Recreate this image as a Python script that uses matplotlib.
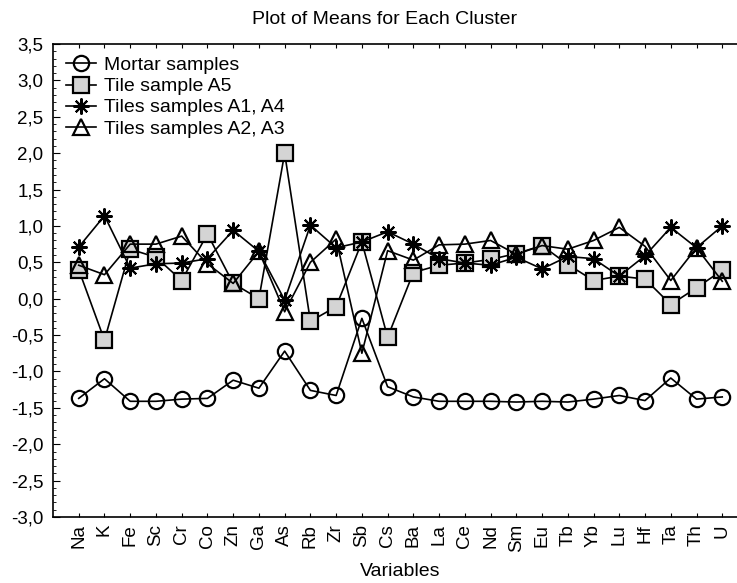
import numpy as np
import matplotlib
matplotlib.use('Agg')
import matplotlib.pyplot as plt
from matplotlib.ticker import MultipleLocator, FuncFormatter

plt.rcParams['font.family'] = ['Liberation Sans', 'DejaVu Sans']

# Variables (elements)
elements = ['Na', 'K', 'Fe', 'Sc', 'Cr', 'Co', 'Zn', 'Ga', 'As', 'Rb', 'Zr', 'Sb', 'Cs',
            'Ba', 'La', 'Ce', 'Nd', 'Sm', 'Eu', 'Tb', 'Yb', 'Lu', 'Hf', 'Ta', 'Th', 'U']

# Cluster means
mortar = [-1.37, -1.10, -1.41, -1.41, -1.38, -1.37, -1.12, -1.23, -0.72, -1.26, -1.33, -0.27, -1.21,
          -1.35, -1.41, -1.41, -1.41, -1.42, -1.41, -1.42, -1.38, -1.33, -1.40, -1.09, -1.38, -1.35]
tile_a5 = [0.40, -0.57, 0.68, 0.57, 0.25, 0.89, 0.21, 0.00, 2.00, -0.31, -0.11, 0.78, -0.53,
           0.36, 0.46, 0.49, 0.54, 0.62, 0.73, 0.47, 0.25, 0.31, 0.27, -0.08, 0.15, 0.39]
tiles_a1_a4 = [0.71, 1.14, 0.42, 0.48, 0.49, 0.55, 0.94, 0.65, -0.02, 1.01, 0.70, 0.78, 0.92,
               0.75, 0.55, 0.49, 0.46, 0.57, 0.41, 0.58, 0.55, 0.31, 0.59, 0.98, 0.70, 1.00]
tiles_a2_a3 = [0.46, 0.33, 0.75, 0.75, 0.86, 0.48, 0.21, 0.65, -0.18, 0.50, 0.82, -0.75, 0.66,
               0.53, 0.74, 0.75, 0.80, 0.61, 0.73, 0.68, 0.80, 0.98, 0.72, 0.25, 0.70, 0.24]

x = np.arange(len(elements))

fig = plt.figure(figsize=(7.37, 5.83), dpi=100)
# right edge of the plot box runs past the image edge, like the reference
ax = fig.add_axes([0.0719, 0.1132, 0.943, 0.8113])

ax.plot(x, mortar, color='black', lw=1.2, marker='o', ms=11, mfc='none', mec='black', mew=1.6,
        label='Mortar samples')
ax.plot(x, tile_a5, color='black', lw=1.2, marker='s', ms=11, mfc='#d4d4d4', mec='black', mew=1.6,
        label='Tile sample A5')
ax.plot(x, tiles_a1_a4, color='black', lw=1.2, marker=(8, 2, 0), ms=11.5, mec='black', mew=1.5,
        label='Tiles samples A1, A4')
ax.plot(x, tiles_a2_a3, color='black', lw=1.2, marker='^', ms=11, mfc='none', mec='black', mew=1.6,
        label='Tiles samples A2, A3')

ax.set_xlim(-1, len(elements))
ax.set_ylim(-3.0, 3.5)
ax.set_xticks(x)
ax.set_xticklabels(elements, rotation=90, fontsize=13.5)
ax.yaxis.set_major_locator(MultipleLocator(0.5))
ax.yaxis.set_minor_locator(MultipleLocator(0.1))
ax.yaxis.set_major_formatter(FuncFormatter(lambda v, p: f'{v:.1f}'.replace('.', ',')))
ax.tick_params(axis='y', which='major', direction='in', length=5, labelsize=13.5, pad=7)
ax.tick_params(axis='y', which='minor', direction='in', length=2.5)
ax.tick_params(axis='x', direction='in', length=3, top=True, pad=5)
for s in ax.spines.values():
    s.set_linewidth(1.2)

ax.set_xlabel('Variables', fontsize=14, labelpad=8)
fig.text(385 / 737, 1 - 19 / 583, 'Plot of Means for Each Cluster', fontsize=14,
         ha='center', va='center')

ax.legend(loc='upper left', frameon=False, fontsize=14, handlelength=1.55, handletextpad=0.4,
          labelspacing=0.18, borderaxespad=0.35, borderpad=0.3)

fig.savefig('out.png', dpi=100)
